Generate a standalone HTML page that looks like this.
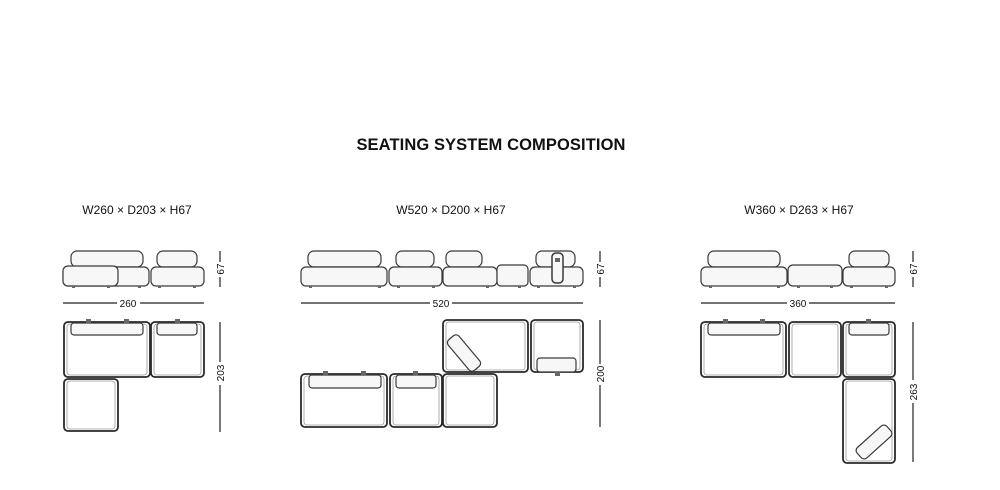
<!DOCTYPE html>
<html><head><meta charset="utf-8"><style>
html,body{margin:0;padding:0;background:#fff;}
svg{display:block}
text{font-family:"Liberation Sans",sans-serif;fill:#111}
</style></head><body>
<svg width="1000" height="490" viewBox="0 0 1000 490" xmlns="http://www.w3.org/2000/svg">
<defs>
<style>
.o{fill:#fff;stroke:#2a2a2a;stroke-width:1.8}
.i{fill:none;stroke:#999;stroke-width:0.8}
.c{fill:#f7f7f7;stroke:#3a3a3a;stroke-width:1.2}
.d{stroke:#222;stroke-width:1.2;fill:none}
.f{fill:#666}
.t{font-size:10px}
</style>
</defs>
<text x="491" y="150" text-anchor="middle" style="font-size:16.5px;font-weight:bold;letter-spacing:0.1px">SEATING SYSTEM COMPOSITION</text>
<text x="137" y="214" text-anchor="middle" style="font-size:12px">W260 × D203 × H67</text>
<text x="451" y="214" text-anchor="middle" style="font-size:12px">W520 × D200 × H67</text>
<text x="799" y="214" text-anchor="middle" style="font-size:12px">W360 × D263 × H67</text>

<!-- ===== GROUP 1 front ===== -->
<rect class="c" x="71" y="251" width="72" height="16" rx="6"/>
<rect class="c" x="63" y="267" width="86" height="19" rx="5"/>
<rect class="c" x="63" y="266" width="55" height="20" rx="5"/>
<rect class="c" x="157" y="251" width="40" height="16" rx="6"/>
<rect class="c" x="151" y="267" width="53" height="19" rx="5"/>
<g class="f"><rect x="72" y="286" width="3" height="2"/><rect x="107" y="286" width="3" height="2"/><rect x="138" y="286" width="3" height="2"/><rect x="158" y="286" width="3" height="2"/><rect x="193" y="286" width="3" height="2"/></g>
<line class="d" x1="63" y1="303" x2="117" y2="303"/><line class="d" x1="140" y1="303" x2="204" y2="303"/>
<text class="t" x="128" y="307" text-anchor="middle">260</text>
<line class="d" x1="220" y1="251" x2="220" y2="262"/><line class="d" x1="220" y1="277" x2="220" y2="287"/>
<text class="t" transform="translate(224,269) rotate(-90)" text-anchor="middle">67</text>
<!-- plan -->
<rect class="o" x="64" y="322" width="86" height="55" rx="4"/>
<rect class="i" x="67" y="324" width="80" height="51" rx="3"/>
<rect class="c" x="71" y="323" width="72" height="12" rx="3"/>
<rect class="f" x="86" y="319" width="5" height="4"/><rect class="f" x="124" y="319" width="5" height="4"/>
<rect class="o" x="151" y="322" width="53" height="55" rx="4"/>
<rect class="i" x="154" y="324" width="47" height="51" rx="3"/>
<rect class="c" x="157" y="323" width="40" height="12" rx="3"/>
<rect class="f" x="175" y="319" width="5" height="4"/>
<rect class="o" x="64" y="379" width="54" height="52" rx="4"/>
<rect class="i" x="67" y="381" width="48" height="48" rx="3"/>
<line class="d" x1="220" y1="322" x2="220" y2="362"/><line class="d" x1="220" y1="385" x2="220" y2="432"/>
<text class="t" transform="translate(224,373) rotate(-90)" text-anchor="middle">203</text>

<!-- ===== GROUP 2 front ===== -->
<rect class="c" x="308" y="251" width="73" height="16" rx="6"/>
<rect class="c" x="301" y="267" width="86" height="19" rx="5"/>
<rect class="c" x="396" y="251" width="38" height="16" rx="6"/>
<rect class="c" x="389" y="267" width="53" height="19" rx="5"/>
<rect class="c" x="446" y="251" width="36" height="16" rx="6"/>
<rect class="c" x="443" y="267" width="54" height="19" rx="5"/>
<rect class="c" x="497" y="265" width="31" height="21" rx="4"/>
<rect class="c" x="536" y="251" width="39" height="16" rx="6"/>
<rect class="c" x="530" y="267" width="53" height="19" rx="5"/>
<rect class="c" x="552" y="253" width="11" height="30" rx="4" style="stroke-width:1.5"/>
<rect class="f" x="555" y="258" width="5" height="4"/>
<g class="f"><rect x="309" y="286" width="3" height="2"/><rect x="378" y="286" width="3" height="2"/><rect x="397" y="286" width="3" height="2"/><rect x="432" y="286" width="3" height="2"/><rect x="486" y="286" width="3" height="2"/><rect x="518" y="286" width="3" height="2"/><rect x="537" y="286" width="3" height="2"/><rect x="573" y="286" width="3" height="2"/></g>
<line class="d" x1="301" y1="303" x2="430" y2="303"/><line class="d" x1="452" y1="303" x2="583" y2="303"/>
<text class="t" x="441" y="307" text-anchor="middle">520</text>
<line class="d" x1="600" y1="251" x2="600" y2="262"/><line class="d" x1="600" y1="277" x2="600" y2="287"/>
<text class="t" transform="translate(604,269) rotate(-90)" text-anchor="middle">67</text>
<!-- plan top row -->
<rect class="o" x="443" y="320" width="85" height="52" rx="4"/>
<rect class="i" x="446" y="322" width="79" height="48" rx="3"/>
<rect class="c" x="-20" y="-7" width="40" height="14" rx="4" transform="translate(464,353) rotate(50)"/>
<rect class="o" x="531" y="320" width="52" height="52" rx="4"/>
<rect class="i" x="534" y="322" width="46" height="48" rx="3"/>
<rect class="c" x="537" y="358" width="39" height="14" rx="3"/>
<rect class="f" x="555" y="372" width="5" height="4"/>
<!-- bottom row -->
<rect class="o" x="301" y="374" width="86" height="53" rx="4"/>
<rect class="i" x="304" y="376" width="80" height="49" rx="3"/>
<rect class="c" x="309" y="375" width="72" height="13" rx="3"/>
<rect class="f" x="323" y="371" width="5" height="4"/><rect class="f" x="361" y="371" width="5" height="4"/>
<rect class="o" x="390" y="374" width="52" height="53" rx="4"/>
<rect class="i" x="393" y="376" width="46" height="49" rx="3"/>
<rect class="c" x="396" y="375" width="40" height="13" rx="3"/>
<rect class="f" x="413" y="371" width="5" height="4"/>
<rect class="o" x="443" y="374" width="54" height="53" rx="4"/>
<rect class="i" x="446" y="376" width="48" height="49" rx="3"/>
<line class="d" x1="600" y1="320" x2="600" y2="364"/><line class="d" x1="600" y1="385" x2="600" y2="427"/>
<text class="t" transform="translate(604,374) rotate(-90)" text-anchor="middle">200</text>

<!-- ===== GROUP 3 front ===== -->
<rect class="c" x="708" y="251" width="72" height="16" rx="6"/>
<rect class="c" x="701" y="267" width="86" height="19" rx="5"/>
<rect class="c" x="788" y="265" width="54" height="21" rx="5"/>
<rect class="c" x="849" y="251" width="40" height="16" rx="6"/>
<rect class="c" x="843" y="267" width="52" height="19" rx="5"/>
<g class="f"><rect x="709" y="286" width="3" height="2"/><rect x="777" y="286" width="3" height="2"/><rect x="797" y="286" width="3" height="2"/><rect x="830" y="286" width="3" height="2"/><rect x="850" y="286" width="3" height="2"/><rect x="885" y="286" width="3" height="2"/></g>
<line class="d" x1="701" y1="303" x2="787" y2="303"/><line class="d" x1="809" y1="303" x2="895" y2="303"/>
<text class="t" x="798" y="307" text-anchor="middle">360</text>
<line class="d" x1="913" y1="251" x2="913" y2="262"/><line class="d" x1="913" y1="277" x2="913" y2="287"/>
<text class="t" transform="translate(917,269) rotate(-90)" text-anchor="middle">67</text>
<!-- plan -->
<rect class="o" x="701" y="322" width="85" height="55" rx="4"/>
<rect class="i" x="704" y="324" width="79" height="51" rx="3"/>
<rect class="c" x="708" y="323" width="72" height="12" rx="3"/>
<rect class="f" x="723" y="319" width="5" height="4"/><rect class="f" x="760" y="319" width="5" height="4"/>
<rect class="o" x="789" y="322" width="52" height="55" rx="4"/>
<rect class="i" x="792" y="324" width="46" height="51" rx="3"/>
<rect class="o" x="843" y="322" width="52" height="55" rx="4"/>
<rect class="i" x="846" y="324" width="46" height="51" rx="3"/>
<rect class="c" x="849" y="323" width="40" height="12" rx="3"/>
<rect class="f" x="866" y="319" width="5" height="4"/>
<rect class="o" x="843" y="379" width="52" height="84" rx="4"/>
<rect class="i" x="846" y="381" width="46" height="80" rx="3"/>
<rect class="c" x="-20" y="-7" width="40" height="14" rx="4" transform="translate(874,442) rotate(-42)"/>
<line class="d" x1="913" y1="322" x2="913" y2="380"/><line class="d" x1="913" y1="403" x2="913" y2="462"/>
<text class="t" transform="translate(917,392) rotate(-90)" text-anchor="middle">263</text>
</svg>
</body></html>
